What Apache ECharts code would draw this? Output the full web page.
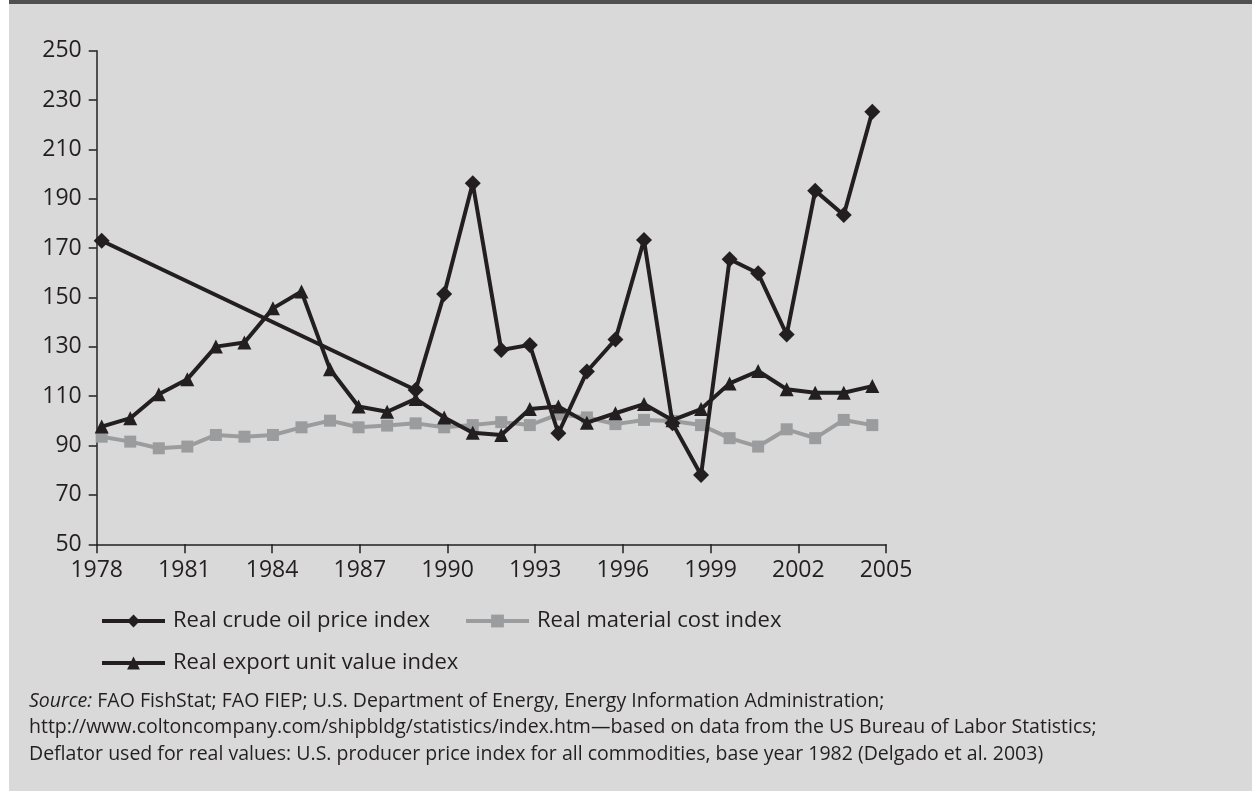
<!DOCTYPE html>
<html>
<head>
<meta charset="utf-8">
<script src="https://cdn.jsdelivr.net/npm/echarts@6/dist/echarts.min.js"></script>
<style>
html,body{margin:0;padding:0;background:#ffffff;}
#chart{width:1252px;height:791px;}
</style>
</head>
<body>
<div id="chart"></div>
<script>
// ---- data ----
var years = ['1978','1979','1980','1981','1982','1983','1984','1985','1986','1987','1988','1989','1990','1991','1992','1993','1994','1995','1996','1997','1998','1999','2000','2001','2002','2003','2004','2005'];
var crudeOil = [173, null, null, null, null, null, null, null, null, null, null, 112.5, 151.4, 196.3, 128.7, 130.8, 95, 120, 133, 173.3, 99, 78.1, 165.5, 159.8, 135, 193.3, 183.4, 225.3];
var materialCost = [93.6, 91.6, 88.9, 89.6, 94.3, 93.6, 94.3, 97.4, 100.1, 97.4, 98.1, 99.0, 97.4, 98.3, 99.5, 98.3, 102.6, 101.4, 98.7, 100.4, 100.0, 98.3, 93.0, 89.6, 96.6, 93.0, 100.4, 98.3];
var exportUnit = [97.7, 101.1, 110.8, 116.9, 130.1, 131.8, 145.6, 152.4, 120.9, 105.8, 103.7, 108.9, 101.4, 95.2, 94.3, 104.8, 105.8, 99.3, 103.1, 106.8, 100.3, 104.8, 115.2, 120.2, 112.8, 111.4, 111.4, 114.1];
var seriesNames = ['Real crude oil price index', 'Real material cost index', 'Real export unit value index'];
var xTicks = {min: 1978, max: 2005, step: 3};
var yTicks = {min: 50, max: 250, step: 20};
var sourceLines = [
  '{i|Source:} FAO FishStat; FAO FIEP; U.S. Department of Energy, Energy Information Administration;',
  'http://www.coltoncompany.com/shipbldg/statistics/index.htm\u2014based on data from the US Bureau of Labor Statistics;',
  'Deflator used for real values: U.S. producer price index for all commodities, base year 1982 (Delgado et al. 2003)'
];

// ---- styles ----
var FONT = '"Open Sans", "DejaVu Sans", sans-serif';
var DARK = '#231f20';
var GRAY = '#9b9c9e';

var chart = echarts.init(document.getElementById('chart'), null, {renderer: 'canvas'});

var axisLbl = {color: DARK, fontFamily: FONT, fontSize: 23};

function legendFor(name, left, top) {
  return {
    data: [name],
    left: left, top: top,
    orient: 'horizontal',
    itemWidth: 63, itemHeight: 16,
    padding: 0,
    selectedMode: false,
    lineStyle: {width: 4},
    textStyle: {color: DARK, fontFamily: FONT, fontSize: 22, padding: [0, 0, 0, 3]}
  };
}

var graphics = [
  {type: 'rect', z: -10, shape: {x: 9, y: 0, width: 1243, height: 791}, style: {fill: '#d9d9d9'}},
  {type: 'rect', z: -9, shape: {x: 9, y: 0, width: 1243, height: 4}, style: {fill: '#505050'}}
];
sourceLines.forEach(function (t, k) {
  graphics.push({
    type: 'text', z: 5,
    x: 29, y: 701 + k * 26.5,
    style: {
      text: t,
      fill: DARK,
      font: '19.5px ' + FONT,
      verticalAlign: 'middle',
      rich: {i: {fontStyle: 'italic', fontFamily: FONT, fontSize: 19.5, fill: DARK}}
    }
  });
});

var option = {
  backgroundColor: '#ffffff',
  animation: false,
  graphic: graphics,
  grid: [
    {left: 96.7, right: 366, top: 50.7, bottom: 246.7},
    {left: 101.7, right: 379.7, top: 50.7, bottom: 246.7}
  ],
  xAxis: [
    {
      gridIndex: 0, type: 'value', min: xTicks.min, max: xTicks.max, interval: xTicks.step,
      axisLine: {show: true, onZero: false, lineStyle: {color: DARK, width: 1.5}},
      axisTick: {show: true, length: 9, lineStyle: {color: DARK, width: 1.5}},
      axisLabel: Object.assign({margin: 15, formatter: function (v) { return String(v); }}, axisLbl),
      splitLine: {show: false}
    },
    {gridIndex: 1, type: 'category', data: years, boundaryGap: false, show: false}
  ],
  yAxis: [
    {
      gridIndex: 0, type: 'value', min: yTicks.min, max: yTicks.max, interval: yTicks.step,
      axisLine: {show: true, lineStyle: {color: DARK, width: 1.5}},
      axisTick: {show: true, length: 8, lineStyle: {color: DARK, width: 1.5}},
      axisLabel: Object.assign({margin: 15}, axisLbl),
      splitLine: {show: false}
    },
    {gridIndex: 1, type: 'value', min: yTicks.min, max: yTicks.max, show: false}
  ],
  legend: [
    legendFor(seriesNames[0], 100, 610),
    legendFor(seriesNames[1], 464, 610),
    legendFor(seriesNames[2], 100, 652)
  ],
  series: [
    {
      name: seriesNames[1], type: 'line', xAxisIndex: 1, yAxisIndex: 1, data: materialCost,
      symbol: 'rect', symbolSize: 12, showSymbol: true,
      lineStyle: {color: GRAY, width: 4}, itemStyle: {color: GRAY}, z: 2
    },
    {
      name: seriesNames[2], type: 'line', xAxisIndex: 1, yAxisIndex: 1, data: exportUnit,
      symbol: 'triangle', symbolSize: 14, showSymbol: true,
      lineStyle: {color: DARK, width: 4}, itemStyle: {color: DARK}, z: 3
    },
    {
      name: seriesNames[0], type: 'line', xAxisIndex: 1, yAxisIndex: 1, data: crudeOil,
      connectNulls: true,
      symbol: 'diamond', symbolSize: 16, showSymbol: true,
      lineStyle: {color: DARK, width: 4}, itemStyle: {color: DARK}, z: 4
    }
  ]
};
chart.setOption(option);
</script>
</body>
</html>
